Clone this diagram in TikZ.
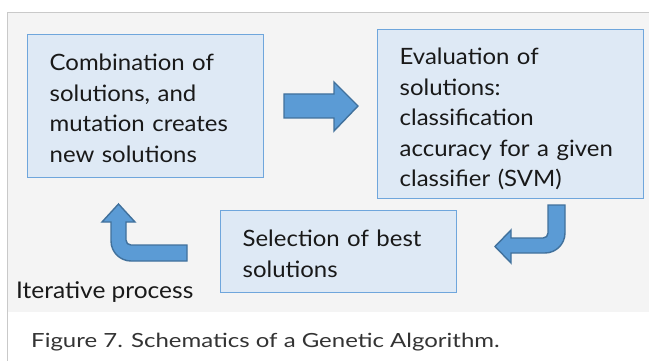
\documentclass[tikz,border=0pt]{standalone}
\usepackage{fontspec}
\setmainfont{Lato}[FakeStretch=1.065]
\newfontfamily\capfont{Lato}[FakeStretch=1.23]
\definecolor{panelbg}{HTML}{F4F4F4}
\definecolor{panelline}{HTML}{C9C9C9}
\definecolor{boxfill}{HTML}{DEE9F5}
\definecolor{boxline}{HTML}{6FA6DC}
\definecolor{arrowfill}{HTML}{5B9BD5}
\definecolor{arrowline}{HTML}{41719C}
\definecolor{captext}{HTML}{333333}
\tikzset{
  stepbox/.style={draw=boxline, line width=1.3pt, fill=boxfill, rectangle,
    anchor=north west, inner xsep=22pt, inner ysep=0pt, align=left,
    font=\fontsize{22.5}{30.5}\selectfont, text=black!90},
  blockarrow/.style={fill=arrowfill, draw=arrowline, line width=1.4pt, line join=miter},
}
\begin{document}
\begin{tikzpicture}[x=1pt, y=-1pt]
  \useasboundingbox (0,0) rectangle (649,361);
  % panel behind the diagram
  \fill[panelbg] (7,13) rectangle (649,312);
  \draw[panelline, line width=1pt] (7,361) -- (7,13) -- (649,13);

  % the three stages (text height nudges each text block down a little)
  \node[stepbox, minimum width=236pt, minimum height=143pt, text width=192pt,
        text height=20.5pt]
    (combine) at (27,34)
    {Combination of\\ solutions, and\\ mutation creates\\ new solutions};
  \node[stepbox, minimum width=266pt, minimum height=169pt, text width=222pt,
        text height=26.5pt]
    (evaluate) at (377,29)
    {Evaluation of\\ solutions:\\ classification\\ accuracy for a given\\ classifier (SVM)};
  \node[stepbox, minimum width=236pt, minimum height=82pt, text width=192pt,
        text height=20.5pt]
    (select) at (220,210)
    {Selection of best\\ solutions};

  % straight block arrow: combine -> evaluate
  \draw[blockarrow] (284,94) -- (334,94) -- (334,82) -- (358,106) -- (334,131)
    -- (334,118) -- (284,118) -- cycle;

  % bent block arrow: evaluate -> select
  \draw[blockarrow] (548,205) -- (565,205) -- (565,233)
    .. controls (565,244) and (556,253) .. (545,253)
    -- (511,253) -- (511,263) -- (495,246.5) -- (511,230) -- (511,238) -- (543,238)
    .. controls (546,238) and (548,236) .. (548,233) -- cycle;

  % bent block arrow: select -> combine
  \draw[blockarrow] (187,245) -- (187,261) -- (131,261)
    .. controls (120,261) and (111,252) .. (111,241)
    -- (111,222) -- (102,222) -- (118.5,204) -- (135,222) -- (126,222) -- (126,240)
    .. controls (126,243) and (128,245) .. (131,245) -- cycle;

  \node[anchor=base west, inner sep=0pt, font=\fontsize{23}{28}\selectfont, text=black!90]
    (loop) at (16,298) {Iterative process};

  \node[anchor=base west, inner sep=0pt, font=\capfont\fontsize{19.5}{24}\selectfont, text=captext]
    (caption) at (31,347) {Figure 7. Schematics of a Genetic Algorithm.};
\end{tikzpicture}
\end{document}
